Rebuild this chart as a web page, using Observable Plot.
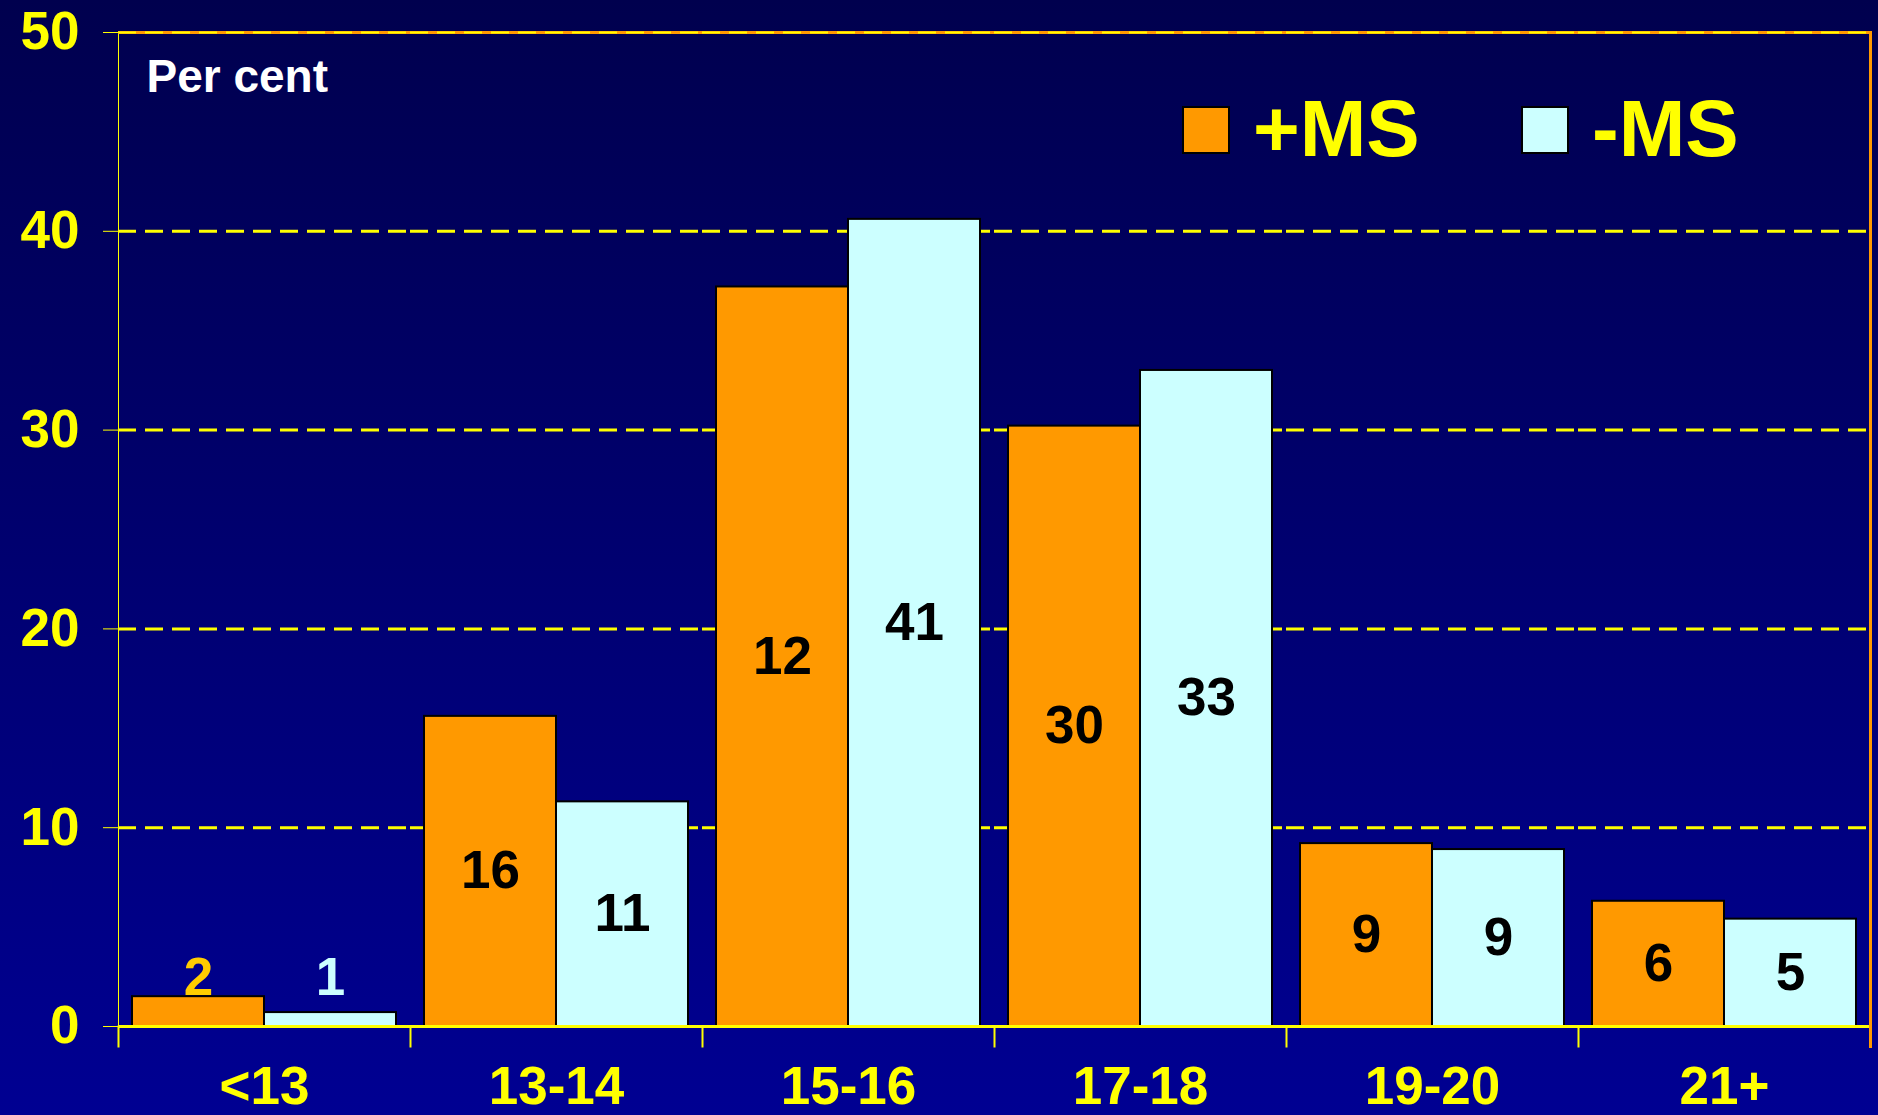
<!DOCTYPE html>
<html>
<head>
<meta charset="utf-8">
<script src="https://cdn.jsdelivr.net/npm/d3@7"></script>
<script src="https://cdn.jsdelivr.net/npm/@observablehq/plot@0.6"></script>
<style>
  html, body { margin: 0; padding: 0; }
  body {
    width: 1878px; height: 1115px; overflow: hidden;
    background: linear-gradient(to bottom, #00004e 0%, #000092 100%);
    font-family: "Liberation Sans", Arial, Helvetica, sans-serif;
  }
  #wrap { position: relative; width: 1878px; height: 1115px; }
  .legend-item { position: absolute; top: 0; height: 160px; }
  .legend-swatch { position: absolute; top: 106px; width: 44px; height: 44px; border: 2px solid #000; }
  .legend-text { position: absolute; top: 89px; font-size: 80px; line-height: 80px; font-weight: bold; color: #FFFF00; white-space: nowrap; }
</style>
</head>
<body>
<div id="wrap">
  <div id="chart"></div>
  <div id="legend"></div>
</div>
<script>
// ---- data ----
const categories = ["<13", "13-14", "15-16", "17-18", "19-20", "21+"];
const series = ["+MS", "-MS"];
const plusMS  = [1.5, 15.6, 37.2, 30.2, 9.2, 6.3];
const minusMS = [0.7, 11.3, 40.6, 33.0, 8.9, 5.4];
const plusLabels  = ["2", "16", "12", "30", "9", "6"];
const minusLabels = ["1", "11", "41", "33", "9", "5"];
const yTicks = [0, 10, 20, 30, 40, 50];
const gridTicks = [10, 20, 30, 40];
const seriesColors = ["#FF9900", "#CCFFFF"];
const outsideLabelColors = ["#FFCC00", "#CCFFFF"];
const yLabel = "Per cent";

// ---- table built from the arrays ----
const rows = categories.flatMap((c, i) => {
  const groupMax = Math.max(plusMS[i], minusMS[i]);
  return [
    {category: c, series: series[0], value: plusMS[i], label: plusLabels[i], groupMax},
    {category: c, series: series[1], value: minusMS[i], label: minusLabels[i], groupMax}
  ];
});
const outsideColorOf = Object.fromEntries(series.map((s, i) => [s, outsideLabelColors[i]]));
const isInside = d => d.value >= 3;

const W = 1878, H = 1115;
const mL = 117, mR = 8, mT = 32, mB = 89;
const plotH = H - mT - mB;
const YELLOW = "#FFFF00", ORANGE = "#FF9900";
const FONT = "'Liberation Sans', Arial, Helvetica, sans-serif";

const chart = Plot.plot({
  width: W,
  height: H,
  marginLeft: mL,
  marginRight: mR,
  marginTop: mT,
  marginBottom: mB,
  style: {
    background: "transparent",
    color: YELLOW,
    fontFamily: FONT,
    fontWeight: "bold",
    fontSize: "53px",
    overflow: "visible"
  },
  fx: {domain: categories, padding: 0, axis: "bottom", tickSize: 0, tickPadding: 40, label: null},
  x: {domain: series, paddingInner: 0, paddingOuter: 0.106, axis: null},
  y: {domain: [0, 50], ticks: yTicks, tickSize: 15, tickPadding: 24, line: true, label: null},
  color: {domain: series, range: seriesColors},
  marks: [
    // gridlines
    Plot.ruleY(gridTicks, {stroke: YELLOW, strokeWidth: 3, strokeDasharray: "18,9"}),
    Plot.ruleY([50], {stroke: ORANGE, strokeWidth: 3}),
    Plot.ruleY([50], {stroke: YELLOW, strokeWidth: 2, strokeDasharray: "18,9"}),
    // bars
    Plot.barY(rows, {fx: "category", x: "series", y: "value", fill: "series", stroke: "#000", strokeWidth: 2}),
    // baseline
    Plot.ruleY([0], {stroke: YELLOW, strokeWidth: 3}),
    // category boundary ticks
    Plot.frame({anchor: "left", stroke: YELLOW, strokeWidth: 2, insetTop: plotH, insetBottom: -20}),
    // right border
    Plot.frame({anchor: "right", fx: () => categories[categories.length - 1], stroke: ORANGE, strokeWidth: 3, insetBottom: -20}),
    // value labels inside bars
    Plot.text(rows.filter(isInside), {
      fx: "category", x: "series", y: d => d.value / 2, text: "label",
      fill: "#000", fontSize: 53, fontWeight: "bold", fontFamily: FONT, lineAnchor: "middle"
    }),
    // value labels above short bars
    Plot.text(rows.filter(d => !isInside(d)), {
      fx: "category", x: "series", y: "groupMax", text: "label",
      fill: d => outsideColorOf[d.series], fontSize: 53, fontWeight: "bold", fontFamily: FONT, lineAnchor: "middle", dy: -19
    }),
    // y label inside the frame
    Plot.text([yLabel], {
      fx: () => categories[0], text: d => d, frameAnchor: "top-left", textAnchor: "start", lineAnchor: "top",
      dx: 28, dy: 27, fill: "#FFFFFF", fontSize: 46, fontWeight: "bold", fontFamily: FONT
    })
  ]
});
document.getElementById("chart").appendChild(chart);

// legend (HTML, positioned over the chart)
const legend = document.getElementById("legend");
const legendLeft = [1182, 1521];
series.forEach((s, i) => {
  const item = document.createElement("div");
  item.className = "legend-item";
  item.style.left = legendLeft[i] + "px";
  const sw = document.createElement("div");
  sw.className = "legend-swatch";
  sw.style.left = "0px";
  sw.style.background = seriesColors[i];
  const tx = document.createElement("div");
  tx.className = "legend-text";
  tx.style.left = "71px";
  tx.textContent = s;
  item.appendChild(sw);
  item.appendChild(tx);
  legend.appendChild(item);
});
</script>
</body>
</html>
